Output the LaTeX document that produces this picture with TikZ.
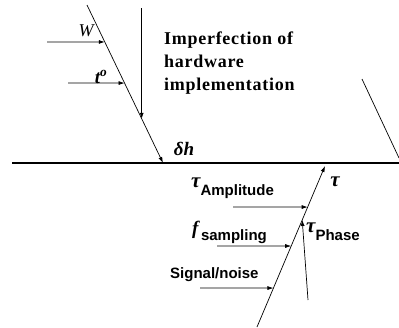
\documentclass[tikz,border=0pt]{standalone}
\usepackage{fontspec}
\setmainfont{Liberation Serif}
\setsansfont{Liberation Sans}
\usetikzlibrary{arrows.meta, calc}
\tikzset{
  err line/.style={draw=black, line width=0.7pt},
  err arrow/.style={err line, -{Latex[length=6pt,width=4pt]}},
  err axis/.style={draw=black, line width=1.3pt},
  err sym/.style={font=\fontsize{18}{18}\selectfont\itshape, inner sep=0pt},
  err bsym/.style={font=\fontsize{19}{19}\selectfont\bfseries\itshape, inner sep=0pt},
  err text/.style={font=\fontsize{18}{23}\selectfont\bfseries\addfontfeature{LetterSpace=4},
    align=left, inner sep=0pt},
  err sub/.style={font=\fontsize{15}{15}\selectfont\sffamily\bfseries, inner sep=0pt}
}
\newcommand{\grk}[2]{{\rmfamily\itshape\fontsize{#1}{#1}\selectfont #2}}

\begin{document}
\begin{tikzpicture}[x=1pt, y=-1pt]
  \useasboundingbox (0,0) rectangle (399,327);

  \coordinate (ptop) at (87,5);
  \coordinate (dh) at (163,163);
  \coordinate (vhit) at ($(ptop)!0.72!(dh)$);
  \coordinate (vtop) at (vhit |- 0,8);
  \coordinate (whit) at ($(ptop)!0.234!(dh)$);
  \coordinate (wsrc) at (47,42);
  \coordinate (thit) at ($(ptop)!0.494!(dh)$);
  \coordinate (tsrc) at (68,83);

  \coordinate (axl) at (12,163);
  \coordinate (axr) at (399,163);
  \coordinate (rtop) at (362,79);
  \coordinate (rbot) at (399,158);

  \coordinate (tbot) at (257,327);
  \coordinate (ttop) at (325,166);
  \coordinate (amphit) at ($(tbot)!0.745!(ttop)$);
  \coordinate (ampsrc) at (233,207);
  \coordinate (samphit) at ($(tbot)!0.503!(ttop)$);
  \coordinate (sampsrc) at (217,246);
  \coordinate (snhit) at ($(tbot)!0.242!(ttop)$);
  \coordinate (snsrc) at (200,288);
  \coordinate (phhit) at ($(tbot)!0.665!(ttop)$);
  \coordinate (phsrc) at (308,300);

  \node (w) [err sym, anchor=base] at (86,36) {W};
  \node (tdeg) [err bsym, anchor=base] at (101,83) {t\textsuperscript{o}};
  \node (dhlbl) [err bsym, anchor=base] at (184,155) {δh};
  \node (imperf) [err text, anchor=north west] at (164,32)
    {Imperfection of\\hardware\\implementation};

  \node (tau) [err bsym, font=\fontsize{21}{21}\selectfont\bfseries\itshape, anchor=base] at (335,186) {τ};
  \node (amp) [err sub, anchor=base west] at (191,187)
    {\grk{21}{\bfseries τ}\raisebox{-8pt}{Amplitude}};
  \node (samp) [err sub, anchor=base west] at (192,234)
    {\grk{19}{f}\raisebox{-6pt}{\,sampling}};
  \node (sn) [err sub, anchor=base west] at (170,278) {Signal/noise};
  \node (phase) [err sub, anchor=base west] at (306,232)
    {\grk{21}{\bfseries τ}\raisebox{-8pt}{Phase}};

  \draw [err arrow] (ptop) -- (dh);
  \draw [err arrow] (vtop) -- (vhit);
  \draw [err arrow] (wsrc) -- (whit);
  \draw [err arrow] (tsrc) -- (thit);
  \draw [err axis] (axl) -- (axr);
  \draw [err line] (rtop) -- (rbot);

  \draw [err arrow] (tbot) -- (ttop);
  \draw [err arrow] (ampsrc) -- (amphit);
  \draw [err arrow] (sampsrc) -- (samphit);
  \draw [err arrow] (snsrc) -- (snhit);
  \draw [err arrow] (phsrc) -- (phhit);
\end{tikzpicture}
\end{document}
